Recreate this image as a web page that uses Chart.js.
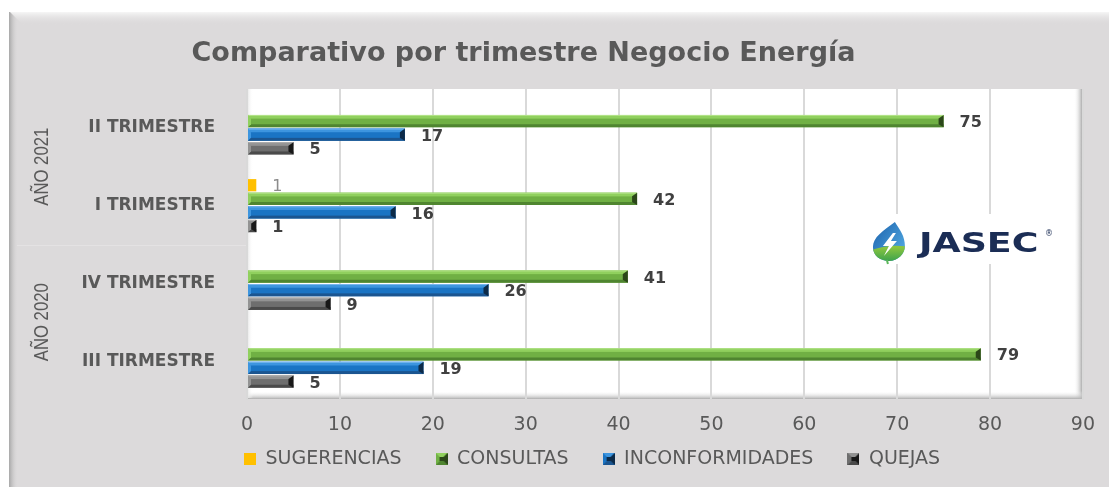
<!DOCTYPE html>
<html lang="es">
<head>
<meta charset="utf-8">
<title>Comparativo por trimestre Negocio Energía</title>
<script src="https://cdn.jsdelivr.net/npm/chart.js@4.4.1/dist/chart.umd.min.js"></script>
<style>
  html, body { margin: 0; padding: 0; background: #fff; }
  #wrap { position: relative; width: 1109px; height: 487px; }
</style>
</head>
<body>
<div id="wrap"><canvas id="chart" width="1109" height="487"></canvas></div>
<script>
// ---- data ----
const titleText = 'Comparativo por trimestre Negocio Energía';
const categories = ['II TRIMESTRE', 'I TRIMESTRE', 'IV TRIMESTRE', 'III TIRMESTRE'];
const yearGroups = ['AÑO 2021', 'AÑO 2020'];   // each covers two categories
const seriesNames = ['SUGERENCIAS', 'CONSULTAS', 'INCONFORMIDADES', 'QUEJAS'];
const sugerencias = [0, 1, 0, 0];
const consultas = [75, 42, 41, 79];
const inconformidades = [17, 16, 26, 19];
const quejas = [5, 1, 9, 5];
const xMin = 0, xMax = 90, xStep = 10;

// ---- styles ----
const palettes = [
    { base: '#ffc000', bevel: false },
    { base: '#70b044', light: '#90d05e', hi: '#b4e38a', dark: '#4f8530', cap: '#2b4719', bevel: true },
    { base: '#1a74c4', light: '#3d95df', hi: '#7ab8ee', dark: '#1b5590', cap: '#0c2a48', bevel: true },
    { base: '#6e6e6e', light: '#939393', hi: '#b0b0b0', dark: '#4a4a4a', cap: '#181818', bevel: true }
];
const labelStyles = [
    { font: '16px "DejaVu Sans", sans-serif', color: '#8c8c8c' },
    { font: 'bold 16px "DejaVu Sans", sans-serif', color: '#404040' },
    { font: 'bold 16px "DejaVu Sans", sans-serif', color: '#404040' },
    { font: 'bold 16px "DejaVu Sans", sans-serif', color: '#404040' }
];
const txtGray = '#595959';

// small beveled squares for the legend
function makeIcon(p) {
    const cv = document.createElement('canvas');
    cv.width = 12; cv.height = 12;
    const g = cv.getContext('2d');
    g.fillStyle = p.base;
    g.fillRect(0, 0, 12, 12);
    if (p.bevel) {
        const tri = (pts, col) => {
            g.fillStyle = col;
            g.beginPath();
            g.moveTo(pts[0][0], pts[0][1]);
            g.lineTo(pts[1][0], pts[1][1]);
            g.lineTo(pts[2][0], pts[2][1]);
            g.closePath();
            g.fill();
        };
        tri([[0, 0], [12, 0], [6, 6]], p.light);
        tri([[0, 12], [12, 12], [6, 6]], p.dark);
        tri([[12, 0], [12, 12], [6, 6]], p.cap);
        tri([[0, 0], [0, 12], [6, 6]], p.base);
        g.fillStyle = p.cap;
        g.fillRect(4, 4, 4, 4);
    }
    return cv;
}
const legendIcons = palettes.map(makeIcon);

// ---- plugins ----
const framePlugin = {
    id: 'frame',
    beforeDraw(chart) {
        const { ctx, width, height, chartArea: a, scales } = chart;
        ctx.save();
        ctx.fillStyle = '#ffffff';
        ctx.fillRect(0, 0, width, height);
        ctx.fillStyle = '#dcdadb';
        ctx.fillRect(10, 12, width - 10, height - 12);

        // outer bevel, left and top
        let g = ctx.createLinearGradient(9, 0, 18, 0);
        g.addColorStop(0, '#a5a5a5');
        g.addColorStop(1, 'rgba(220,218,219,0)');
        ctx.fillStyle = g;
        ctx.fillRect(9, 12, 9, height - 12);
        g = ctx.createLinearGradient(0, 12, 0, 25);
        g.addColorStop(0, '#f6f6f6');
        g.addColorStop(1, 'rgba(220,218,219,0)');
        ctx.fillStyle = g;
        ctx.beginPath();
        ctx.moveTo(10, 12); ctx.lineTo(width, 12); ctx.lineTo(width, 25); ctx.lineTo(23, 25);
        ctx.closePath();
        ctx.fill();

        // plot area with soft shadow
        ctx.fillStyle = '#ffffff';
        ctx.fillRect(a.left, a.top, a.width, a.height - 2);
        g = ctx.createLinearGradient(a.right - 9, 0, a.right, 0);
        g.addColorStop(0, 'rgba(255,255,255,0)');
        g.addColorStop(1, '#9c9c9c');
        ctx.fillStyle = g;
        ctx.fillRect(a.right - 9, a.top, 9, a.height - 2);
        g = ctx.createLinearGradient(0, a.bottom - 9, 0, a.bottom - 1);
        g.addColorStop(0, 'rgba(255,255,255,0)');
        g.addColorStop(1, '#b0b0b0');
        ctx.fillStyle = g;
        ctx.fillRect(a.left, a.bottom - 9, a.width, 8);
        g = ctx.createLinearGradient(a.left, 0, a.left + 6, 0);
        g.addColorStop(0, '#e2e2e2');
        g.addColorStop(1, 'rgba(255,255,255,0)');
        ctx.fillStyle = g;
        ctx.fillRect(a.left, a.top, 6, a.height - 2);

        // year group labels at the far left
        const y = scales.y;
        const sep = (y.getPixelForValue(1) + y.getPixelForValue(2)) / 2;
        ctx.strokeStyle = '#e4e2e3';
        ctx.lineWidth = 1;
        ctx.beginPath();
        ctx.moveTo(17, Math.round(sep) + 0.5);
        ctx.lineTo(a.left, Math.round(sep) + 0.5);
        ctx.stroke();
        ctx.fillStyle = txtGray;
        ctx.font = '20px "Liberation Sans", Arial, sans-serif';
        ctx.textAlign = 'center';
        ctx.textBaseline = 'middle';
        yearGroups.forEach((lbl, k) => {
            const cy = (y.getPixelForValue(k * 2) + y.getPixelForValue(k * 2 + 1)) / 2;
            ctx.save();
            ctx.translate(42, cy);
            ctx.rotate(-Math.PI / 2);
            ctx.fillText(lbl, 0, 0, 78);
            ctx.restore();
        });
        ctx.restore();

        // title sits a bit left of the canvas centre, legend under the plot
        const t = chart.titleBlock;
        t.left = 0; t.right = 1047;
        const lg = chart.legend;
        const w = lg.right - lg.left;
        lg.left = a.left - 3 - lg.options.labels.padding;
        lg.right = lg.left + w;
        lg.top = 459 - lg.options.labels.padding - 9.5;
    }
};

function drawLogo(ctx, a) {
    const x0 = a.right - 230, y0 = 214;
    ctx.save();
    ctx.fillStyle = '#ffffff';
    ctx.fillRect(x0, y0, 222, 50);

    // drop icon
    const cx = x0 + 36, cy = y0 + 31;
    ctx.beginPath();
    ctx.moveTo(cx + 6, cy - 23);
    ctx.bezierCurveTo(cx - 6, cy - 14, cx - 16, cy - 8, cx - 16, cy + 2);
    ctx.bezierCurveTo(cx - 16, cy + 11, cx - 8, cy + 16, cx, cy + 16);
    ctx.bezierCurveTo(cx + 9, cy + 16, cx + 16, cy + 9, cx + 16, cy + 1);
    ctx.bezierCurveTo(cx + 16, cy - 9, cx + 11, cy - 15, cx + 6, cy - 23);
    ctx.closePath();
    ctx.save();
    ctx.clip();
    let g = ctx.createLinearGradient(cx - 16, cy - 20, cx + 16, cy + 4);
    g.addColorStop(0, '#1d63ad');
    g.addColorStop(1, '#4fa6e0');
    ctx.fillStyle = g;
    ctx.fillRect(cx - 20, cy - 26, 40, 44);
    g = ctx.createLinearGradient(0, cy + 2, 0, cy + 16);
    g.addColorStop(0, '#8cc63f');
    g.addColorStop(1, '#3fa34d');
    ctx.fillStyle = g;
    ctx.beginPath();
    ctx.moveTo(cx - 20, cy + 6);
    ctx.quadraticCurveTo(cx, cy - 2, cx + 20, cy + 2);
    ctx.lineTo(cx + 20, cy + 20);
    ctx.lineTo(cx - 20, cy + 20);
    ctx.closePath();
    ctx.fill();
    ctx.restore();
    ctx.fillStyle = '#ffffff';
    ctx.beginPath();
    ctx.moveTo(cx + 4, cy - 12);
    ctx.lineTo(cx - 6, cy + 1);
    ctx.lineTo(cx, cy + 1);
    ctx.lineTo(cx - 5, cy + 11);
    ctx.lineTo(cx + 8, cy - 4);
    ctx.lineTo(cx + 2, cy - 4);
    ctx.lineTo(cx + 7, cy - 12);
    ctx.closePath();
    ctx.fill();
    ctx.strokeStyle = '#5cb85c';
    ctx.lineWidth = 2;
    ctx.beginPath();
    ctx.moveTo(cx - 2, cy + 15);
    ctx.lineTo(cx - 1, cy + 19);
    ctx.stroke();

    // wordmark
    ctx.fillStyle = '#1b2d55';
    ctx.font = 'bold 26px "DejaVu Sans", sans-serif';
    ctx.textAlign = 'left';
    ctx.textBaseline = 'alphabetic';
    ctx.save();
    ctx.translate(x0 + 66, y0 + 38);
    ctx.scale(1.4, 1);
    ctx.fillText('JASEC', 0, 0);
    ctx.restore();
    ctx.font = '8px "DejaVu Sans", sans-serif';
    ctx.fillText('®', x0 + 192, y0 + 22);
    ctx.restore();
}

const logoPlugin = {
    id: 'logo',
    beforeDatasetsDraw(chart) {
        drawLogo(chart.ctx, chart.chartArea);
    }
};

// bevel look on the bars + value labels
const barDecor = {
    id: 'barDecor',
    afterDatasetsDraw(chart) {
        const ctx = chart.ctx;
        ctx.save();
        chart.data.datasets.forEach((ds, i) => {
            const p = palettes[i];
            if (!p.bevel) return;
            chart.getDatasetMeta(i).data.forEach((bar) => {
                const { x, y, base, height } = bar.getProps(['x', 'y', 'base', 'height'], true);
                const w = x - base;
                if (w <= 0) return;
                const top = y - height / 2, bot = y + height / 2;
                const band = height * 0.3;
                const low = height * 0.24;
                ctx.fillStyle = p.light;
                ctx.fillRect(base, top, w, band);
                ctx.fillStyle = p.hi;
                ctx.fillRect(base, top, w, 1);
                ctx.fillStyle = p.dark;
                ctx.fillRect(base, bot - low, w, low);
                // subtle lighter wedge at the start, dark wedge at the end
                ctx.fillStyle = p.light;
                ctx.beginPath();
                ctx.moveTo(base, top);
                ctx.lineTo(base + Math.min(3, w), top + band);
                ctx.lineTo(base + Math.min(3, w), bot - low);
                ctx.lineTo(base, bot);
                ctx.closePath();
                ctx.fill();
                const cw = Math.min(5, w);
                ctx.fillStyle = p.cap;
                ctx.beginPath();
                ctx.moveTo(x - cw, top + band);
                ctx.lineTo(x, top);
                ctx.lineTo(x, bot);
                ctx.lineTo(x - cw, bot - low);
                ctx.closePath();
                ctx.fill();
            });
        });
        ctx.textAlign = 'left';
        ctx.textBaseline = 'middle';
        chart.data.datasets.forEach((ds, i) => {
            const st = labelStyles[i];
            ctx.font = st.font;
            ctx.fillStyle = st.color;
            chart.getDatasetMeta(i).data.forEach((bar, j) => {
                const v = ds.data[j];
                if (!v) return;
                ctx.fillText(String(v), bar.x + 16, bar.y + 2);
            });
        });
        ctx.restore();
    }
};

// ---- chart ----
const seriesData = [sugerencias, consultas, inconformidades, quejas];

new Chart(document.getElementById('chart'), {
    type: 'bar',
    data: {
        labels: categories,
        datasets: seriesNames.map((name, i) => ({
            label: name,
            data: seriesData[i],
            backgroundColor: palettes[i].base,
            borderWidth: 0,
            categoryPercentage: 0.7,
            barPercentage: 0.9
        }))
    },
    options: {
        indexAxis: 'y',
        responsive: false,
        animation: false,
        layout: { padding: { left: 10, right: 26, top: 12, bottom: 17 } },
        scales: {
            x: {
                min: xMin,
                max: xMax,
                grid: { color: '#d9d9d9', lineWidth: 2, drawTicks: false },
                border: { display: false },
                ticks: {
                    stepSize: xStep,
                    color: txtGray,
                    padding: 14,
                    font: { family: '"DejaVu Sans", sans-serif', size: 19 }
                },
                afterFit(scale) { scale.height = 30; }
            },
            y: {
                grid: { display: false, drawTicks: false },
                border: { display: false },
                ticks: {
                    color: txtGray,
                    padding: 32,
                    font: { family: '"DejaVu Sans", sans-serif', size: 17, weight: 'bold' }
                },
                afterFit(scale) { scale.width = 237; }
            }
        },
        plugins: {
            title: {
                display: true,
                text: titleText,
                color: txtGray,
                font: { family: '"DejaVu Sans", sans-serif', size: 27, weight: 'bold' },
                padding: { top: 26, bottom: 18.6 }
            },
            legend: {
                position: 'bottom',
                align: 'start',
                maxHeight: 40,
                labels: {
                    usePointStyle: true,
                    boxWidth: 12,
                    boxHeight: 12,
                    padding: 34,
                    color: txtGray,
                    font: { family: '"DejaVu Sans", sans-serif', size: 19 },
                    generateLabels(chart) {
                        const items = Chart.defaults.plugins.legend.labels.generateLabels(chart);
                        items.forEach((it, i) => { it.pointStyle = legendIcons[i]; });
                        return items;
                    }
                }
            },
            tooltip: { enabled: false }
        }
    },
    plugins: [framePlugin, logoPlugin, barDecor]
});
</script>
</body>
</html>
